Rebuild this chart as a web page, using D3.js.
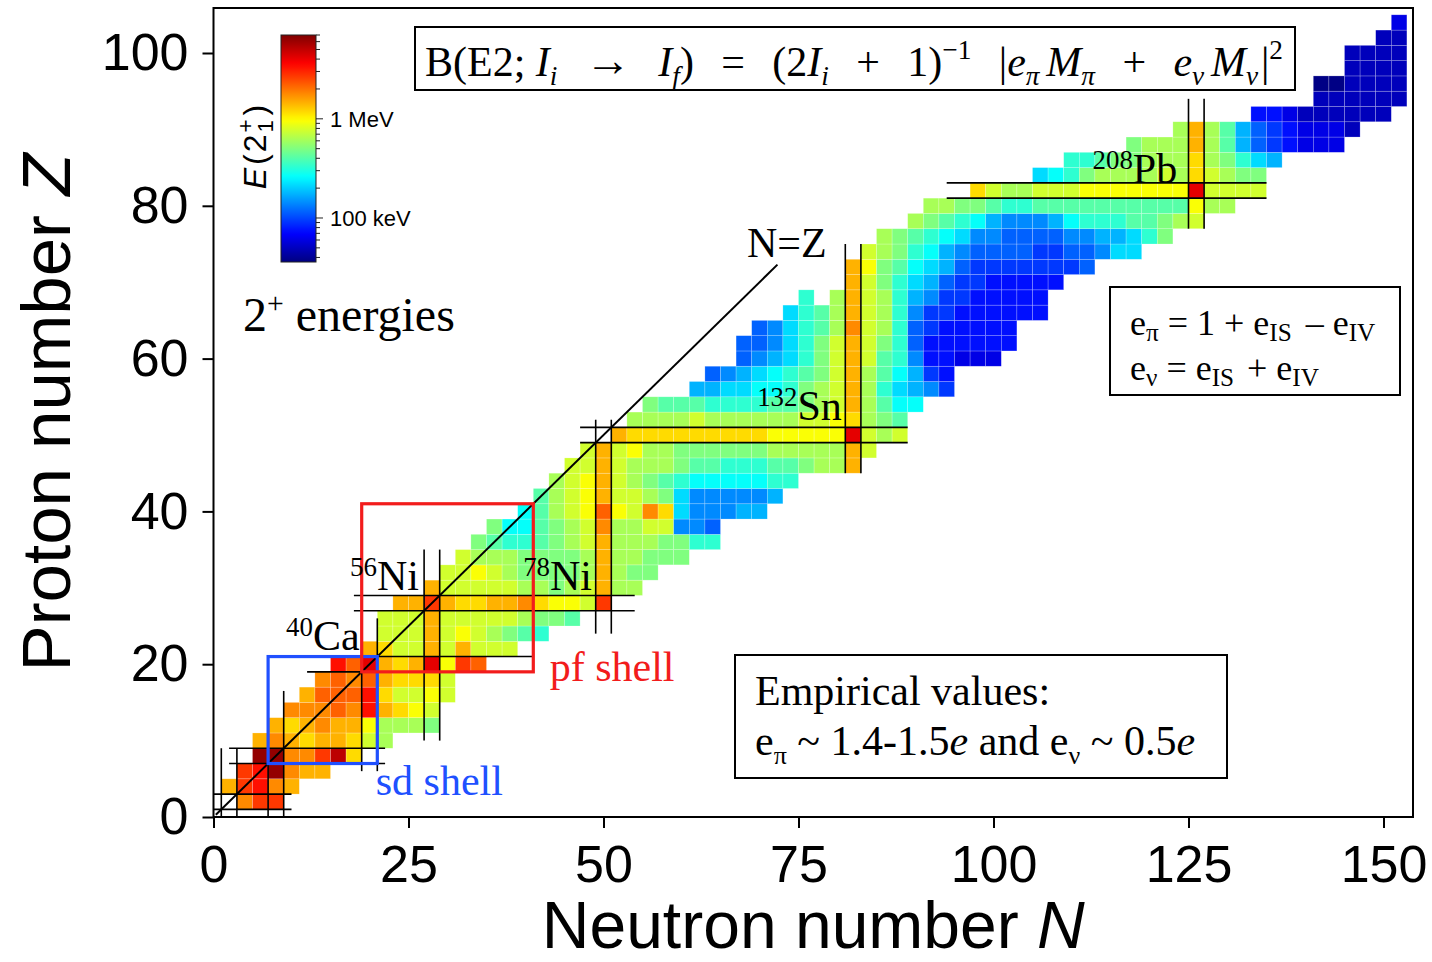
<!DOCTYPE html>
<html><head><meta charset="utf-8">
<script src="https://cdn.jsdelivr.net/npm/d3@7"></script>
<style>html,body{margin:0;padding:0;background:#fff;}svg{display:block;}text{white-space:pre;}</style>
</head><body>
<svg id="chart" width="1432" height="962"></svg>
<script>
// ---------------- DATA ----------------
// E(2+1) level codes -> energy in keV
const levelCodes = "abcdefghijklmnopqrstuvwxy";
const levelKeV = [37,49,61,75,93,115,142,175,216,267,329,407,502,620,766,946,1167,1443,1780,2200,2714,3350,4140,5110,6310];
// even-even nuclei: one row per proton number Z, first neutron number, then one code per even N ('.' = no data)
const rowZ = [2,4,6,8,10,12,14,16,18,20,22,24,26,28,30,32,34,36,38,40,42,44,46,48,50,52,54,56,58,60,62,64,66,68,70,72,74,76,78,80,82,84,86,88,90,92,94,96,98,100,102,104];
const rowStartN = [4,2,4,6,6,8,10,12,14,16,20,22,22,24,28,30,32,34,36,40,42,44,46,48,52,54,56,62,64,68,68,70,74,76,82,82,84,86,90,92,98,106,110,118,124,134,142,142,146,146,150,152];
const rowLevels = [
 "suu","ruvsr","uvysrr","yyssuxq","rsrqrrqon","rqrsrrpnnnm","ssstsvrqpo","rtttvqoopo","ststrqqqo","vtwrqrwput",
 "rqoororooo","oooroponmlk","ooorooooonmml","rrurqqrrsqppou","rooooonnmnornn","ooponmmmmnrnmm","onnnmmmmnrnnmmm",
 "mlkklmnornnnmmkk","mjjlmnosnnooggf","jlnoptposqiggghh","lnoproonmigggggh","nopronmlkjjjjjkk","ooronnnmllkkkllmnnr",
 "oropnnmmmmmmnnnnnro","rqqqqqqqqqpppppwono","nnnnonnnnnnoopqnml","mlllkkkkllmnornljj","hhiijjkmnornkihge",
 "fghijklmornljhed","fghikmorolkgddccc","ffgikmoromkfdddddd","fgiklnsonkfeddddd","iklnronkgeedddddd",
 "k.nronkhgeeddddd","romkihfeeddddd","rpmljihfeeeeeeef","onmkjhgffffeeffgii","nmlkjiggffffgghhikm",
 "nmlkjhggghjkkkllmno","nnmmlkkllllllllllpnn","qonnooopppppppwoooo","ijkmnnnnonqonmm","kklmmnnnqnmkih",
 "mnnnrnlhfedccc","nrnlhfedcccb","ddcbbbbbb","bbbbbb","aabbbb","bbbb","bbbb","bb","c"
];
const xTicks = [0,25,50,75,100,125,150];
const yTicks = [0,20,40,60,80,100];
const cbarMajor = [100,1000];
const cbarMajorLabels = ["100 keV","1 MeV"];
const cbarMinor = [40,50,60,70,80,90,200,300,400,500,600,700,800,900,2000,3000,4000,5000,6000,7000];
// magic-number guide lines: line pair at value±1, spanning from..to
const magicDir  = ["h","v","h","v","h","v","h","v","v","h","v","h","v"];
const magicAt   = [2,2,8,8,20,20,28,28,50,50,82,82,126];
const magicFrom = [0,0,2,0,12,6,18,10,24,47,45,94,77];
const magicTo   = [10,9,22,16.5,41,26,54,35,52,89,75,135,94];

// ---------------- SETUP ----------------
const serif = "'Liberation Serif','Times New Roman',serif";
const sans = "'Liberation Sans',Arial,Helvetica,sans-serif";
const svg = d3.select("#chart");
const X0 = 213.5, X1 = 1413, Y0 = 8, Y1 = 817;
const x = d3.scaleLinear().domain([0,150]).range([213.5,1383.5]);
const y = d3.scaleLinear().domain([0,100]).range([817,53]);
const tScale = d3.scaleLog().domain([36,7000]).range([0,1]).clamp(true);
const cl = v => Math.max(0, Math.min(1, v));
function jet(t){
  return d3.rgb(255*cl(1.5-Math.abs(4*t-3)), 255*cl(1.5-Math.abs(4*t-2)), 255*cl(1.5-Math.abs(4*t-1)));
}
const color = E => jet(tScale(E)).formatHex();

const cells = [];
rowZ.forEach((z,i) => {
  const s = rowLevels[i];
  for (let k = 0; k < s.length; k++) {
    const c = s[k]; if (c === ".") continue;
    cells.push({N: rowStartN[i] + 2*k, Z: z, E: levelKeV[levelCodes.indexOf(c)]});
  }
});

function rich(parent, px, py, parts, fs, fam, anchor){
  const t = parent.append("text").attr("x",px).attr("y",py).attr("font-family",fam)
    .attr("font-size",fs).attr("fill","#000");
  if (anchor) t.attr("text-anchor",anchor);
  let cur = 0;
  parts.forEach(p => {
    const rise = p.rise || 0;
    const s = t.append("tspan").text(p.t).attr("dy", cur - rise).attr("font-size", fs*(p.scale||1));
    if (p.it) s.attr("font-style","italic");
    if (p.dx) s.attr("dx", p.dx);
    if (p.g) s.attr("data-g", p.g);
    cur = rise;
  });
  return t;
}

// ---------------- CELLS ----------------
svg.append("g").selectAll("rect").data(cells).join("rect")
  .attr("x", d => x(d.N-1)).attr("y", d => y(d.Z+1))
  .attr("width", d => x(d.N+1)-x(d.N-1)).attr("height", d => y(d.Z-1)-y(d.Z+1))
  .attr("fill", d => color(d.E))
  .attr("stroke","rgba(255,255,255,0.35)").attr("stroke-width",0.6);

// ---------------- MAGIC LINES ----------------
const ml = svg.append("g").attr("stroke","#000").attr("stroke-width",1.6);
magicDir.forEach((dir,i) => {
  [magicAt[i]-1, magicAt[i]+1].forEach(v => {
    if (dir === "h") ml.append("line").attr("x1",x(magicFrom[i])).attr("x2",x(magicTo[i])).attr("y1",y(v)).attr("y2",y(v));
    else ml.append("line").attr("y1",y(magicFrom[i])).attr("y2",y(magicTo[i])).attr("x1",x(v)).attr("x2",x(v));
  });
});
// N = Z line
svg.append("line").attr("x1",x(0.3)).attr("y1",y(0.3)).attr("x2",x(72.3)).attr("y2",y(72.3))
  .attr("stroke","#000").attr("stroke-width",2);
rich(svg, x(68.4), y(73.3), [{t:"N=Z"}], 42, serif);

// shell boxes
const blue = "#2050ff", red = "#f21c1c";
svg.append("rect").attr("x",x(7)).attr("y",y(21)).attr("width",x(21)-x(7)).attr("height",y(7)-y(21))
  .attr("fill","none").attr("stroke",blue).attr("stroke-width",3.2);
svg.append("rect").attr("x",x(19)).attr("y",y(41)).attr("width",x(41)-x(19)).attr("height",y(19)-y(41))
  .attr("fill","none").attr("stroke",red).attr("stroke-width",3.2);
rich(svg, x(20.8), y(2.9), [{t:"sd shell"}], 42, serif).attr("fill",blue);
rich(svg, x(43.1), y(17.8), [{t:"pf shell"}], 42, serif).attr("fill",red);

// nuclide labels
[["40","Ca",9.3,21.9],["56","Ni",17.5,29.7],["78","Ni",39.7,29.7],["132","Sn",69.7,52.0],["208","Pb",112.7,83.0]].forEach(l => {
  rich(svg, x(l[2]), y(l[3]), [{t:l[0], scale:0.64, rise:14},{t:l[1]}], 42, serif);
});

// ---------------- ANNOTATION BOXES ----------------
svg.append("rect").attr("x",415).attr("y",27).attr("width",880).attr("height",63).attr("fill","#fff").attr("stroke","#000").attr("stroke-width",2);
const SB = -9, SP = 17;
const fml = rich(svg, 425, 76, [
  {t:"B(E2; "},{t:"I",it:1},{t:"i",it:1,scale:.65,rise:SB},{t:"→",g:1,scale:1.1},{t:"I",it:1,g:1},{t:"f",it:1,scale:.65,rise:SB},{t:")"},
  {t:"=",g:1},{t:"(2",g:1},{t:"I",it:1},{t:"i",it:1,scale:.65,rise:SB},{t:"+",g:1},{t:"1)",g:1},{t:"−1",scale:.65,rise:SP},
  {t:"|",g:1},{t:"e",it:1},{t:"π",it:1,scale:.65,rise:SB},{t:"M",it:1,g:0.25},{t:"π",it:1,scale:.65,rise:SB},{t:"+",g:1},
  {t:"e",it:1,g:1},{t:"ν",it:1,scale:.65,rise:SB},{t:"M",it:1,g:0.25},{t:"ν",it:1,scale:.65,rise:SB},{t:"|",g:0.1},{t:"2",scale:.65,rise:SP}
], 42, serif);
{
  const fl = fml.node().getComputedTextLength();
  const gaps = fml.selectAll("tspan[data-g]");
  let wsum = 0; gaps.each(function(){ wsum += +this.getAttribute("data-g"); });
  const unit = Math.max(2, (858 - fl) / wsum);
  gaps.attr("dx", function(){ return unit * (+this.getAttribute("data-g")); });
}

svg.append("rect").attr("x",1110).attr("y",287).attr("width",290).attr("height",108).attr("fill","#fff").attr("stroke","#000").attr("stroke-width",2);
rich(svg, 1130, 335, [{t:"e"},{t:"π",scale:.7,rise:-6},{t:" = 1 + e"},{t:"IS",scale:.7,rise:-6},{t:" – e",dx:5},{t:"IV",scale:.7,rise:-6}], 36, serif);
rich(svg, 1130, 380, [{t:"e"},{t:"ν",scale:.7,rise:-6},{t:" = e"},{t:"IS",scale:.7,rise:-6},{t:" + e",dx:4},{t:"IV",scale:.7,rise:-6}], 36, serif);

svg.append("rect").attr("x",735).attr("y",655).attr("width",492).attr("height",123).attr("fill","#fff").attr("stroke","#000").attr("stroke-width",2);
rich(svg, 755, 705, [{t:"Empirical values:"}], 42, serif);
rich(svg, 755, 755, [{t:"e"},{t:"π",scale:.62,rise:-9},{t:" ~ 1.4-1.5"},{t:"e",it:1},{t:" and e"},{t:"ν",scale:.62,rise:-9},{t:" ~ 0.5"},{t:"e",it:1}], 42, serif);

rich(svg, 243, 331, [{t:"2"},{t:"+",scale:.62,rise:18},{t:" energies"}], 48, serif);

// ---------------- COLORBAR ----------------
const cb = d3.scaleLog().domain([36,7000]).range([262,35]);
const defs = svg.append("defs");
const grad = defs.append("linearGradient").attr("id","jetgrad").attr("x1",0).attr("y1",1).attr("x2",0).attr("y2",0);
d3.range(0,1.0001,0.02).forEach(t => grad.append("stop").attr("offset",t).attr("stop-color",jet(t).formatHex()));
svg.append("rect").attr("x",281).attr("y",35).attr("width",35).attr("height",227).attr("fill","url(#jetgrad)").attr("stroke","#222").attr("stroke-width",1);
const cbt = svg.append("g").attr("stroke","#222").attr("stroke-width",1);
cbarMinor.forEach(e => cbt.append("line").attr("x1",316).attr("x2",320).attr("y1",cb(e)).attr("y2",cb(e)));
cbarMajor.forEach((e,i) => {
  cbt.append("line").attr("x1",316).attr("x2",323).attr("y1",cb(e)).attr("y2",cb(e));
  svg.append("text").attr("x",330).attr("y",cb(e)+8).attr("font-family",sans).attr("font-size",22).text(cbarMajorLabels[i]);
});
const cbl = rich(svg, 0, 0, [{t:"E",it:1},{t:"(",dx:3},{t:"2",dx:2},{t:"1",scale:.7,rise:-7,dx:2},{t:"+",scale:.7,rise:13,dx:-0.556*32*0.7},{t:")",dx:4}], 32, sans, "middle");
cbl.attr("transform","translate(266,147) rotate(-90)");

// ---------------- AXES ----------------
const xa = svg.append("g").attr("transform",`translate(0,${Y1})`)
  .call(d3.axisBottom(x).tickValues(xTicks).tickSize(11).tickPadding(17));
const ya = svg.append("g").attr("transform",`translate(${X0},0)`)
  .call(d3.axisLeft(y).tickValues(yTicks).tickSize(11).tickPadding(14));
[xa,ya].forEach(a => {
  a.select(".domain").remove();
  a.selectAll(".tick line").attr("stroke","#000").attr("stroke-width",2);
  a.selectAll(".tick text").attr("font-family",sans).attr("font-size",52).attr("fill","#000");
});
svg.append("rect").attr("x",X0).attr("y",Y0).attr("width",X1-X0).attr("height",Y1-Y0)
  .attr("fill","none").attr("stroke","#000").attr("stroke-width",2);

rich(svg, (X0+X1)/2, 948, [{t:"Neutron number "},{t:"N",it:1}], 66, sans, "middle");
rich(svg, 0, 0, [{t:"Proton number "},{t:"Z",it:1}], 69, sans, "middle")
  .attr("transform",`translate(70,${(Y0+Y1)/2}) rotate(-90)`);
</script>
</body></html>
